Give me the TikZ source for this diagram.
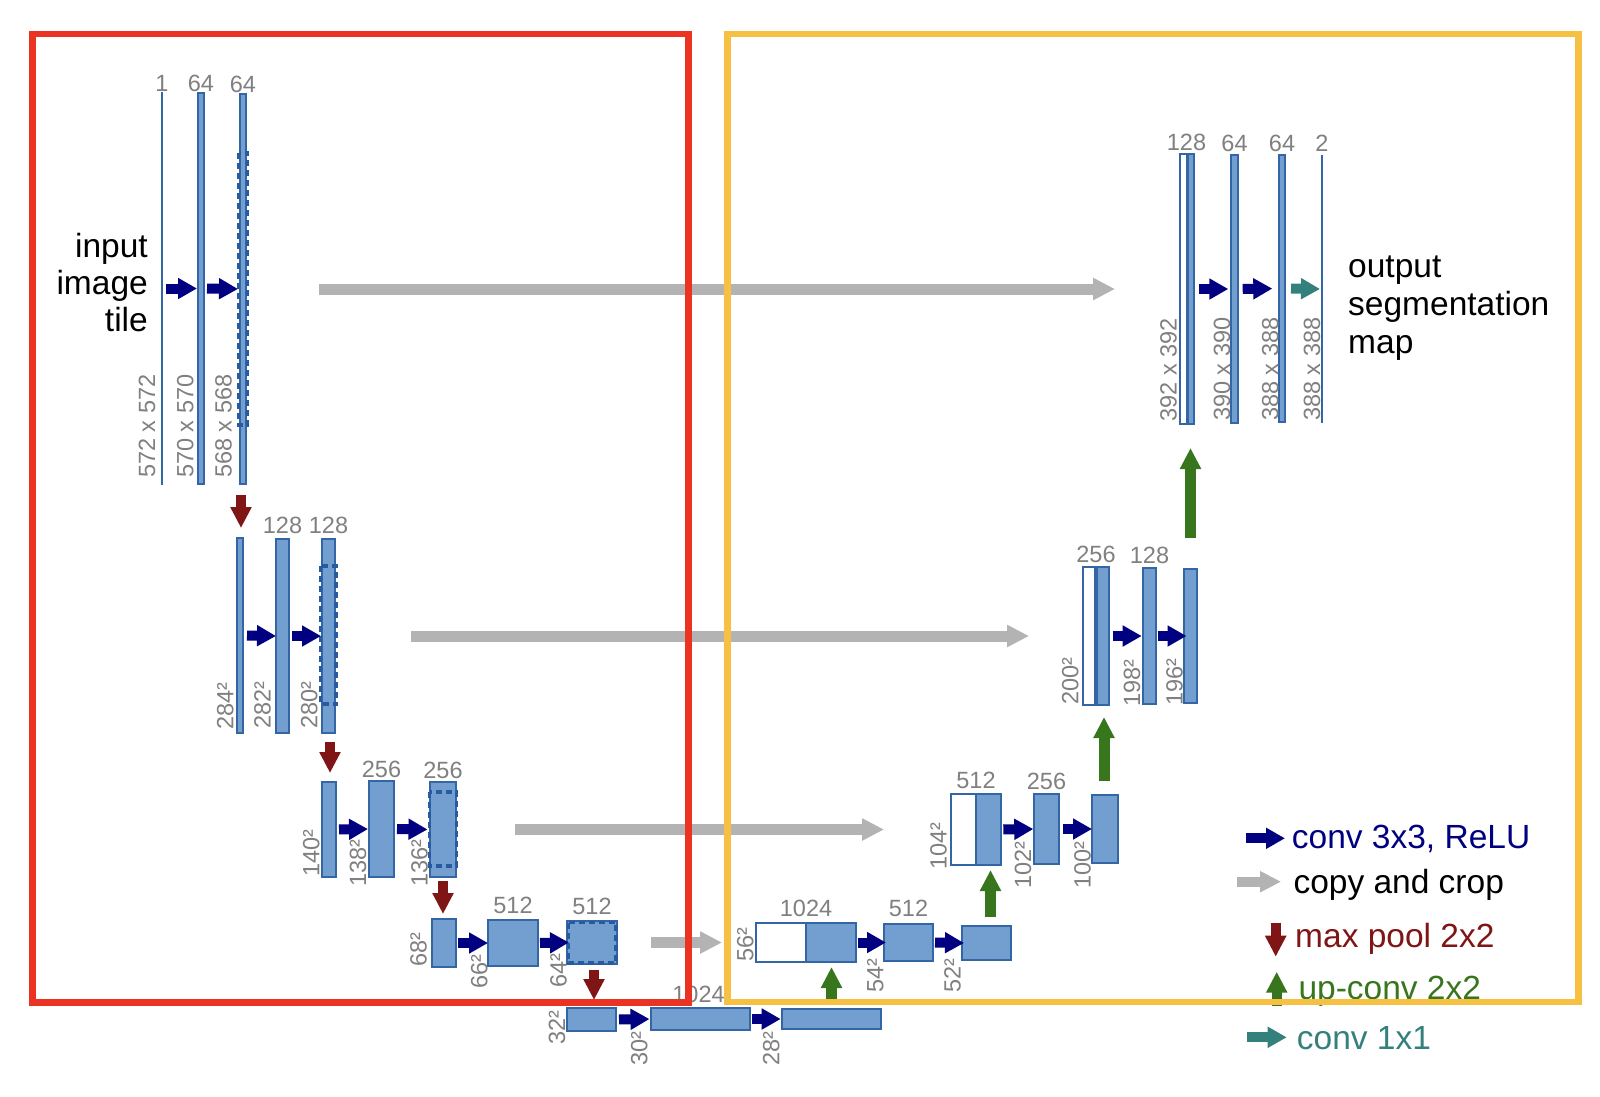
\documentclass[tikz,border=0pt]{standalone}
\usepackage{fontspec}
\setmainfont{Liberation Sans}
\usetikzlibrary{arrows.meta,calc}
\definecolor{barfill}{RGB}{114,159,207}
\definecolor{barline}{RGB}{52,101,164}
\definecolor{cropc}{RGB}{40,90,160}
\definecolor{lblgray}{RGB}{128,128,128}
\definecolor{convc}{RGB}{0,0,128}
\definecolor{copyc}{RGB}{179,179,179}
\definecolor{poolc}{RGB}{128,21,21}
\definecolor{upc}{RGB}{56,118,29}
\definecolor{onec}{RGB}{52,128,125}
\definecolor{redframe}{RGB}{234,51,35}
\definecolor{yelframe}{RGB}{246,193,67}
\newcommand\ublk[6]{\node[#6, minimum width=#3pt-#1pt, minimum height=#4pt-#2pt] (#5) at ({(#1+#3)/2},{(#2+#4)/2}) {};}
\tikzset{
  bluebar/.style={draw=barline, fill=barfill, line width=1.3pt, inner sep=0, outer sep=0},
  whitebar/.style={draw=barline, fill=white, line width=1.3pt, inner sep=0, outer sep=0},
  thinbar/.style={fill=barline, inner sep=0, outer sep=0},
  chl/.style={text=lblgray, font=\fontsize{23.5}{27}\selectfont, inner sep=0, anchor=base},
  dimlbl/.style={text=lblgray, font=\fontsize{23.5}{27}\selectfont, inner sep=0, rotate=90, anchor=base west},
  croprect/.style={draw=cropc, line width=3.5pt, dash pattern=on 6pt off 4pt},
  convarrow/.style={draw=convc, line width=10pt, -{Triangle[length=19pt,width=20pt]}, shorten <=3pt, shorten >=1pt},
  onearrow/.style={draw=onec, line width=10pt, -{Triangle[length=19pt,width=20pt]}},
  copyarrow/.style={draw=copyc, line width=11pt, -{Triangle[length=22pt,width=21pt]}},
  poolarrow/.style={draw=poolc, line width=10pt, -{Triangle[length=21pt,width=20pt]}},
  uparrow/.style={draw=upc, line width=11pt, -{Triangle[length=21pt,width=20pt]}},
  bigtext/.style={font=\fontsize{33.5}{38}\selectfont, inner sep=0},
  legtext/.style={font=\fontsize{33.5}{38}\selectfont, inner sep=0, anchor=base west},
  frame/.style={line width=6.5pt}
}
\begin{document}
\begin{tikzpicture}[x=1pt,y=-1pt]
\useasboundingbox (0,0) rectangle (1600,1096);
\fill[white] (0,0) rectangle (1600,1096);

% ---------- contracting path ----------
\ublk{161}{92}{163}{485}{l1a}{thinbar}
\ublk{198}{93}{204}{484}{l1b}{bluebar}
\ublk{240}{94}{246}{484}{l1c}{bluebar}
\draw[croprect] (238.5,153) rectangle (247.5,425);

\ublk{237}{538}{243}{733}{l2a}{bluebar}
\ublk{276}{539}{289}{733}{l2b}{bluebar}
\ublk{322}{539}{335}{733}{l2c}{bluebar}
\draw[croprect] (320.5,566) rectangle (336,704);

\ublk{322}{782}{336}{877}{l3a}{bluebar}
\ublk{369}{781}{394}{877}{l3b}{bluebar}
\ublk{430}{782}{456}{877}{l3c}{bluebar}
\draw[croprect] (429.5,792) rectangle (456.5,866);

\ublk{432}{919}{456}{967}{l4a}{bluebar}
\ublk{488}{920}{538}{966}{l4b}{bluebar}
\ublk{567}{921}{617}{964}{l4c}{bluebar}
\draw[croprect] (568.5,922.5) rectangle (616,963);

\ublk{567}{1008}{616}{1031}{b1}{bluebar}
\ublk{651}{1008}{750}{1030}{b2}{bluebar}
\ublk{782}{1009}{881}{1029}{b3}{bluebar}

% ---------- expanding path ----------
\ublk{756}{923}{806}{962}{u4w}{whitebar}
\ublk{806}{923}{856}{962}{u4b}{bluebar}
\ublk{884}{924}{933}{961}{u4c}{bluebar}
\ublk{962}{926}{1011}{960}{u4d}{bluebar}

\ublk{951}{794}{976}{865}{u3w}{whitebar}
\ublk{976}{794}{1001}{865}{u3b}{bluebar}
\ublk{1034}{794}{1059}{864}{u3c}{bluebar}
\ublk{1092}{795}{1118}{863}{u3d}{bluebar}

\ublk{1083}{567}{1095}{705}{u2w}{whitebar}
\ublk{1097}{567}{1109}{705}{u2b}{bluebar}
\ublk{1143}{568}{1156}{704}{u2c}{bluebar}
\ublk{1184}{569}{1197}{703}{u2d}{bluebar}

\ublk{1180}{154}{1187}{424}{u1w}{whitebar}
\ublk{1188}{154}{1194}{424}{u1b}{bluebar}
\ublk{1231}{155}{1238}{423}{u1c}{bluebar}
\ublk{1279}{155}{1285}{422}{u1d}{bluebar}
\ublk{1321}{155}{1323}{423}{u1e}{thinbar}

% ---------- channel labels ----------
\node[chl,yshift=1pt] (c1a) at (l1a.north) {1};
\node[chl,yshift=1.5pt] (c1b) at (l1b.north) {64};
\node[chl,yshift=1.5pt] (c1c) at (l1c.north) {64};
\node[chl,yshift=6pt] (c2b) at (l2b.north) {128};
\node[chl,yshift=6pt] (c2c) at (l2c.north) {128};
\node[chl,yshift=4pt] (c3b) at (l3b.north) {256};
\node[chl,yshift=4pt] (c3c) at (l3c.north) {256};
\node[chl,yshift=7pt] (c4b) at (l4b.north) {512};
\node[chl,yshift=7pt] (c4c) at (l4c.north) {512};
\node[chl,yshift=6pt,xshift=-2pt] (cb2) at (b2.north) {1024};
\node[chl,yshift=7pt] (cu4) at ($(u4w.north east)!0.5!(u4b.north west)$) {1024};
\node[chl,yshift=8pt] (cu4c) at (u4c.north) {512};
\node[chl,yshift=6pt] (cu3) at ($(u3w.north east)!0.5!(u3b.north west)$) {512};
\node[chl,yshift=5pt] (cu3c) at (u3c.north) {256};
\node[chl,yshift=4.5pt] (cu2) at ($(u2w.north east)!0.5!(u2b.north west)$) {256};
\node[chl,yshift=4.5pt] (cu2c) at (u2c.north) {128};
\node[chl,yshift=4pt,xshift=-1pt] (cu1) at ($(u1w.north east)!0.5!(u1b.north west)$) {128};
\node[chl,yshift=4pt] (cu1c) at (u1c.north) {64};
\node[chl,yshift=4pt] (cu1d) at (u1d.north) {64};
\node[chl,yshift=4pt] (cu1e) at (u1e.north) {2};

% ---------- size labels ----------
\node[dimlbl] (d1a) at (155,478) {572 x 572};
\node[dimlbl] (d1b) at (193.3,478) {570 x 570};
\node[dimlbl] (d1c) at (231.7,478) {568 x 568};
\node[dimlbl] (d2a) at (233.3,730) {284²};
\node[dimlbl] (d2b) at (270.7,729) {282²};
\node[dimlbl] (d2c) at (317.3,729) {280²};
\node[dimlbl] (d3a) at (319.3,877) {140²};
\node[dimlbl] (d3b) at (366,886.7) {138²};
\node[dimlbl] (d3c) at (427.7,886.7) {136²};
\node[dimlbl] (d4a) at (426.7,966.7) {68²};
\node[dimlbl] (d4b) at (487.3,989) {66²};
\node[dimlbl] (d4c) at (566.7,988) {64²};
\node[dimlbl] (db1) at (565,1045) {32²};
\node[dimlbl] (db2) at (647.3,1066) {30²};
\node[dimlbl] (db3) at (779.3,1066) {28²};
\node[dimlbl] (du4a) at (753.3,962) {56²};
\node[dimlbl] (du4c) at (883.3,993) {54²};
\node[dimlbl] (du4d) at (960.7,993) {52²};
\node[dimlbl] (du3a) at (946.7,870) {104²};
\node[dimlbl] (du3c) at (1031,889) {102²};
\node[dimlbl] (du3d) at (1090.7,889) {100²};
\node[dimlbl] (du2a) at (1078.3,705) {200²};
\node[dimlbl] (du2c) at (1140,706.5) {198²};
\node[dimlbl] (du2d) at (1182.7,706) {196²};
\node[dimlbl] (du1a) at (1176.7,421.5) {392 x 392};
\node[dimlbl] (du1c) at (1230,421) {390 x 390};
\node[dimlbl] (du1d) at (1278.3,421) {388 x 388};
\node[dimlbl] (du1e) at (1320,421) {388 x 388};

% ---------- conv 3x3 arrows ----------
\draw[convarrow] (l1a.east) -- (l1b.west);
\draw[convarrow, shorten >=2pt] (l1b.east) -- (l1c.west);
\draw[convarrow, shorten <=4pt, shorten >=0pt] (l2a.east) -- (l2b.west);
\draw[convarrow] (l2b.east) -- (l2c.west);
\draw[convarrow] (l3a.east) -- (l3b.west);
\draw[convarrow, shorten >=2.5pt] (l3b.east) -- (l3c.west);
\draw[convarrow, shorten <=2pt, shorten >=0pt] (l4a.east) -- (l4b.west);
\draw[convarrow, shorten <=2pt, shorten >=-2pt] (l4b.east) -- (l4c.west);
\draw[convarrow, shorten >=1.5pt] (b1.east) -- (b2.west);
\draw[convarrow, shorten <=2pt, shorten >=1.3pt] (b2.east) -- (b3.west);
\draw[convarrow, shorten <=1.5pt, shorten >=-2pt] (u4b.east) -- (u4c.west);
\draw[convarrow, shorten <=2pt, shorten >=-2pt] (u4c.east) -- (u4d.west);
\draw[convarrow, shorten <=2.3pt, shorten >=0.7pt] (u3b.east) -- (u3c.west);
\draw[convarrow, shorten <=3.7pt, shorten >=0pt] (u3c.east) -- (u3d.west);
\draw[convarrow, shorten <=3.7pt, shorten >=1.3pt] (u2b.east) -- (u2c.west);
\draw[convarrow, shorten <=1.7pt, shorten >=-2.5pt] (u2c.east) -- (u2d.west);
\draw[convarrow, shorten <=5pt, shorten >=2.7pt] (u1b.east) -- (u1c.west);
\draw[convarrow, shorten <=4.7pt, shorten >=6.7pt] (u1c.east) -- (u1d.west);
\draw[onearrow, shorten <=6pt, shorten >=1pt] (u1d.east) -- (u1e.west);

% ---------- copy and crop ----------
\draw[copyarrow, shorten <=73pt, shorten >=65pt] (l1c.east) -- (u1w.west);
\draw[copyarrow, shorten <=76pt, shorten >=54pt] (l2c.east) -- (u2w.west);
\draw[copyarrow, shorten <=59pt, shorten >=67pt] (l3c.east) -- (u3w.west);
\draw[copyarrow, shorten <=34pt, shorten >=34pt] (l4c.east) -- (u4w.west);

% ---------- max pool ----------
\draw[poolarrow, shorten <=11pt, shorten >=10pt] ([xshift=-2pt]l1c.south) -- ([xshift=-2pt]l1c.south |- l2a.north);
\draw[poolarrow, shorten <=9pt, shorten >=9pt] ([xshift=1.5pt]l2c.south) -- ([xshift=1.5pt]l2c.south |- l3a.north);
\draw[poolarrow, shorten <=4pt, shorten >=5pt] (l3c.south) -- (l3c.south |- l4a.north);
\draw[poolarrow, shorten <=6pt, shorten >=8pt] ([xshift=2pt]l4c.south) -- ([xshift=2pt]l4c.south |- b1.north);

% ---------- up-conv ----------
\draw[uparrow, shorten <=4pt, shorten >=5pt] (b3.north) -- (b3.north |- u4b.south);
\draw[uparrow, shorten <=9pt, shorten >=5pt] ([xshift=4pt]u4d.north) -- ([xshift=4pt]u4d.north |- u3b.south);
\draw[uparrow, shorten <=14pt, shorten >=12pt] ([xshift=-1pt]u3d.north) -- ([xshift=-1pt]u3d.north |- u2b.south);
\draw[uparrow, shorten <=31pt, shorten >=24pt] (u2d.north) -- (u2d.north |- u1b.south);

% ---------- texts ----------
\node[bigtext, anchor=base east] (in1) at (148,257) {input};
\node[bigtext, anchor=base east] (in2) at (148,294) {image};
\node[bigtext, anchor=base east] (in3) at (148,331) {tile};
\node[bigtext, anchor=base west] (out1) at (1348,277) {output};
\node[bigtext, anchor=base west] (out2) at (1348,315) {segmentation};
\node[bigtext, anchor=base west] (out3) at (1348,353) {map};

% ---------- legend ----------
\coordinate (lg1s) at (1246,838.3); \coordinate (lg1e) at (1285,838.3);
\draw[convarrow, shorten <=0pt, shorten >=0pt] (lg1s) -- (lg1e);
\node[legtext, text=convc] (lt1) at (1291.7,848.7) {conv 3x3, ReLU};
\coordinate (lg2s) at (1237,881.7); \coordinate (lg2e) at (1281,881.7);
\draw[copyarrow, line width=10pt, -{Triangle[length=21pt,width=20pt]}] (lg2s) -- (lg2e);
\node[legtext, text=black] (lt2) at (1293.3,893) {copy and crop};
\coordinate (lg3s) at (1275.7,922.7); \coordinate (lg3e) at (1275.7,956.7);
\draw[poolarrow] (lg3s) -- (lg3e);
\node[legtext, text=poolc] (lt3) at (1295,947.7) {max pool 2x2};
\coordinate (lg4s) at (1276.7,1006); \coordinate (lg4e) at (1276.7,971.7);
\draw[uparrow, line width=10pt] (lg4s) -- (lg4e);
\node[legtext, text=upc] (lt4) at (1298.3,999) {up-conv 2x2};
\coordinate (lg5s) at (1246.7,1037.3); \coordinate (lg5e) at (1286.7,1037.3);
\draw[onearrow] (lg5s) -- (lg5e);
\node[legtext, text=onec] (lt5) at (1296.7,1049.5) {conv 1x1};

% ---------- frames ----------
\draw[frame, draw=redframe] (32.7,34) rectangle (688.5,1002.5);
\draw[frame, draw=yelframe] (727.5,34) rectangle (1578.5,1002);
\end{tikzpicture}
\end{document}
